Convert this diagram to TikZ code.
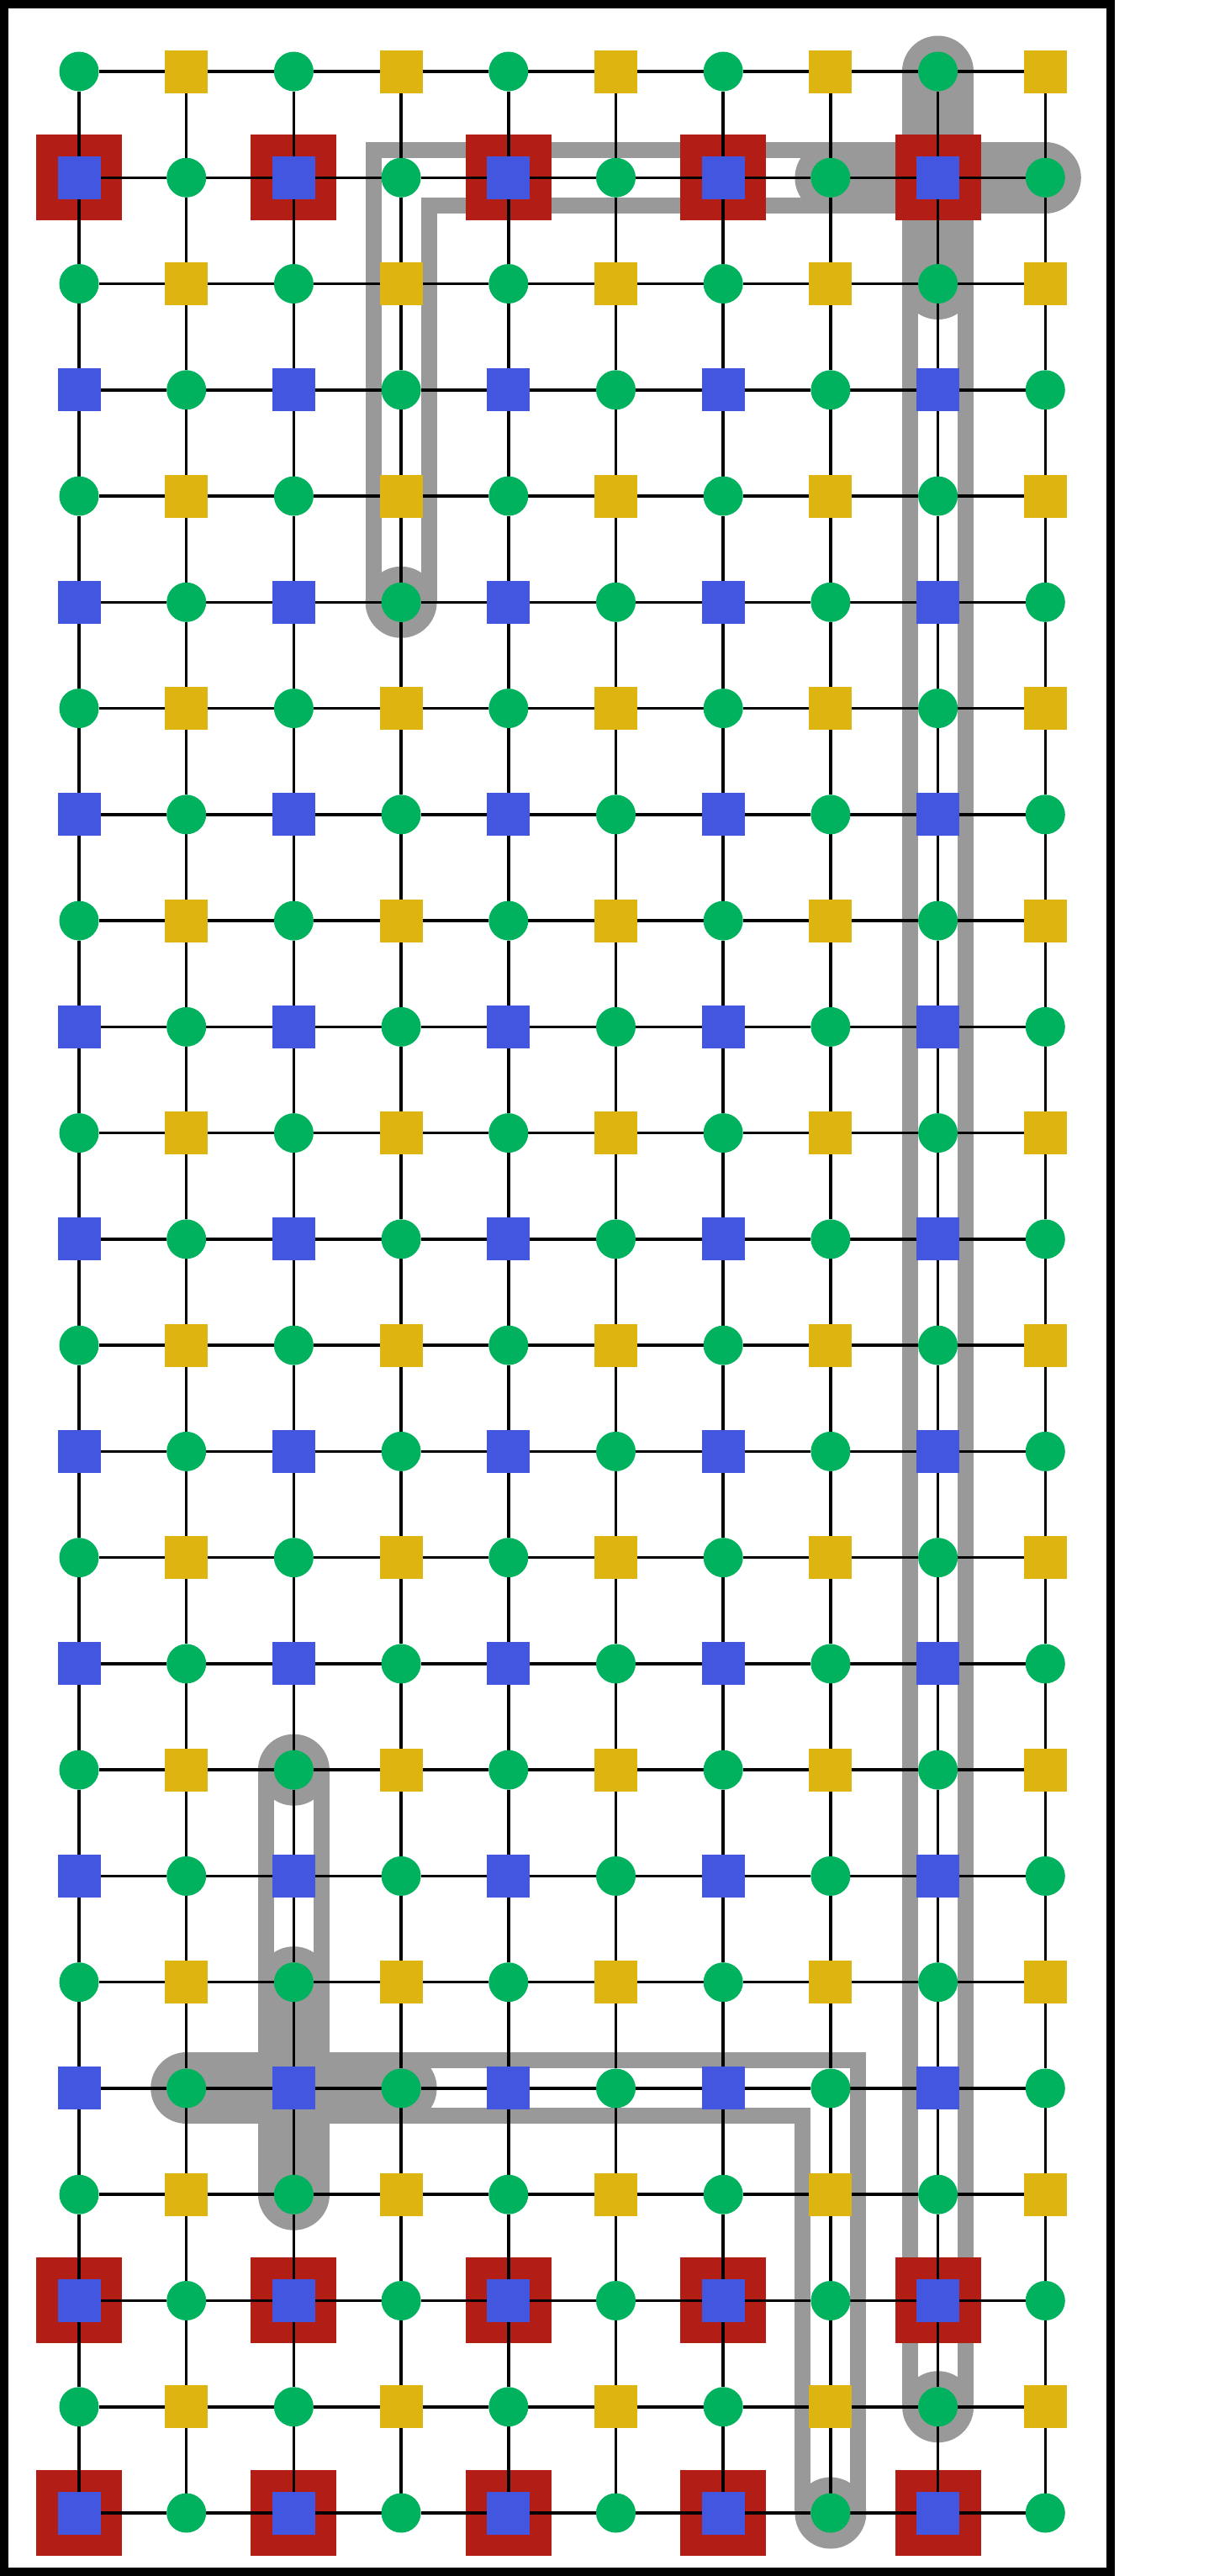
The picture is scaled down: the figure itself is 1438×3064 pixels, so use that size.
\documentclass[tikz,border=0pt]{standalone}
\pgfdeclarelayer{strings}
\pgfdeclarelayer{marks}
\pgfdeclarelayer{edges}
\pgfsetlayers{strings,marks,edges,main}
\definecolor{qgreen}{RGB}{0,178,93}
\definecolor{qyellow}{RGB}{221,180,16}
\definecolor{qblue}{RGB}{66,86,224}
\definecolor{qred}{RGB}{178,29,22}
\definecolor{qgray}{RGB}{153,153,153}
\tikzset{
  gnode/.style={circle, fill=qgreen, minimum size=23.5pt, inner sep=0pt, outer sep=0pt},
  ynode/.style={rectangle, fill=qyellow, minimum size=25.5pt, inner sep=0pt, outer sep=0pt},
  bnode/.style={rectangle, fill=qblue, minimum size=25.5pt, inner sep=0pt, outer sep=0pt},
  rmark/.style={rectangle, fill=qred, minimum size=51pt, inner sep=0pt, outer sep=0pt},
  gridedge/.style={draw=black, line width=1.75pt},
  dblstring/.style={draw=qgray, line width=9.5pt, double=white, double distance=23.5pt, line join=miter},
  solidstring/.style={draw=qgray, line width=42.5pt, line cap=round},
  frameline/.style={draw=black, line width=5pt}
}
\begin{document}
\begin{tikzpicture}[x=0.5pt, y=-0.5pt]
\useasboundingbox (0,0) rectangle (1438,3064);
% nodes
\foreach \r in {0,...,23}{
  \foreach \c in {0,...,9}{
    \pgfmathtruncatemacro\kind{mod(\r,2)*2+mod(\c,2)}
    \pgfmathsetmacro\xx{94+127.7*\c}
    \pgfmathsetmacro\yy{85+126.26*\r}
    \ifcase\kind \def\sty{gnode}\or \def\sty{ynode}\or \def\sty{bnode}\or \def\sty{gnode}\fi
    \node[\sty] (n-\c-\r) at (\xx,\yy) {};
  }
}
% grid edges
\begin{pgfonlayer}{edges}
\foreach \r in {0,...,23}{
  \foreach \c [evaluate=\c as \cn using int(\c+1)] in {0,...,8}{
    \draw[gridedge] (n-\c-\r) -- (n-\cn-\r);
  }
}
\foreach \c in {0,...,9}{
  \foreach \r [evaluate=\r as \rn using int(\r+1)] in {0,...,22}{
    \draw[gridedge] (n-\c-\r) -- (n-\c-\rn);
  }
}
\end{pgfonlayer}
% red marks
\begin{pgfonlayer}{marks}
\foreach \r in {1,21,23}{
  \foreach \c in {0,2,4,6,8}{
    \node[rmark] (m-\c-\r) at (n-\c-\r) {};
  }
}
\end{pgfonlayer}
% gray strings
\begin{pgfonlayer}{strings}
\fill[white] (0,0) rectangle (1438,3064);
\draw[dblstring] (n-3-5.center) -- (n-3-1.center) -- (n-7-1.center);
\draw[dblstring] (n-8-2.center) -- (n-8-22.center);
\draw[dblstring] (n-2-16.center) -- (n-2-18.center);
\draw[dblstring] (n-3-19.center) -- (n-7-19.center) -- (n-7-23.center);
\draw[solidstring] (n-8-0.center) -- (n-8-2.center);
\draw[solidstring] (n-7-1.center) -- (n-9-1.center);
\draw[solidstring] (n-2-18.center) -- (n-2-20.center);
\draw[solidstring] (n-1-19.center) -- (n-3-19.center);
\foreach \p in {n-3-5, n-8-22, n-2-16, n-7-23}{
  \fill[qgray] (\p.center) circle[radius=21.25pt];
}
\end{pgfonlayer}
% frame
\draw[frameline] (5,5) rectangle (1321,3059);
\end{tikzpicture}
\end{document}
